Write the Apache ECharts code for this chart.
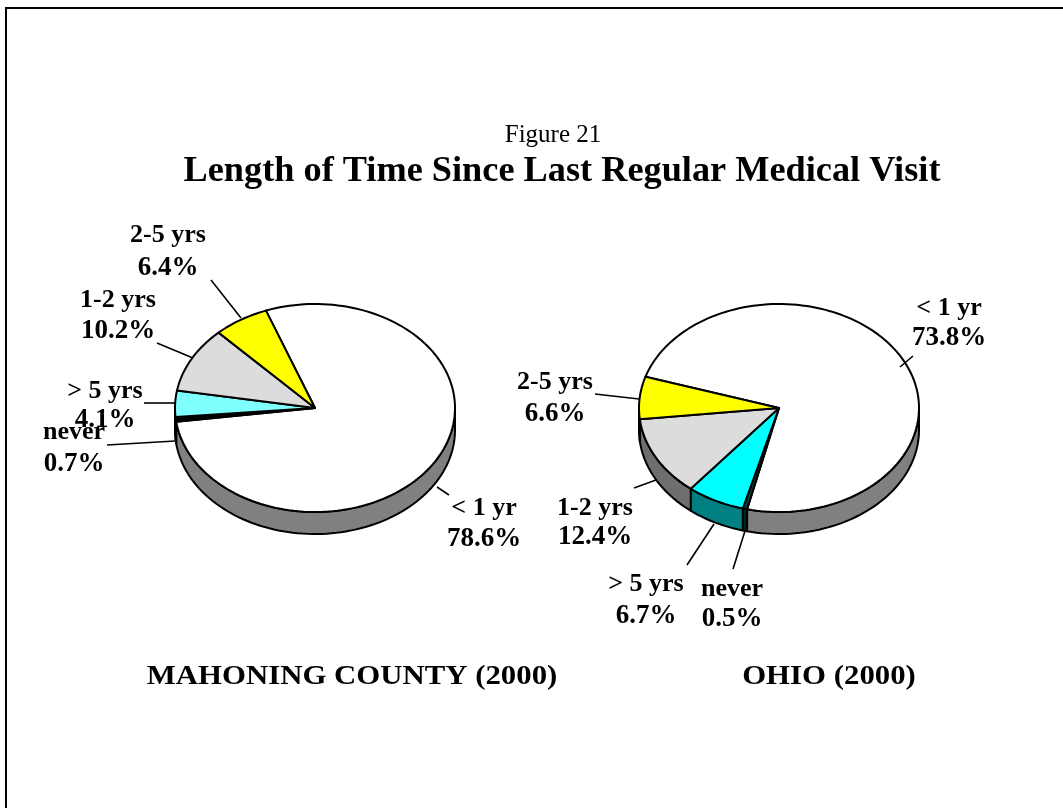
<!DOCTYPE html>
<html><head><meta charset="utf-8">
<style>html,body{margin:0;padding:0;background:#fff}#c{width:1063px;height:808px}</style>
<script src="https://cdn.jsdelivr.net/npm/echarts@6/dist/echarts.min.js"></script></head>
<body><div id="c"></div>
<script>
const categories = ['< 1 yr', 'never', '> 5 yrs', '1-2 yrs', '2-5 yrs'];
const mahoningValues = [78.6, 0.7, 4.1, 10.2, 6.4];
const ohioValues = [73.8, 0.5, 6.7, 12.4, 6.6];
const mahoningTop = ['#ffffff', '#000000', '#80ffff', '#dcdcdc', '#ffff00'];
const ohioTop = ['#ffffff', '#004040', '#00ffff', '#dcdcdc', '#ffff00'];
const mahoningSide = ['#808080', '#000000', '#408080', '#6e6e6e', '#808000'];
const ohioSide = ['#808080', '#002020', '#008080', '#6e6e6e', '#808000'];
const FONT = '"Liberation Serif","Times New Roman",serif';
const RX = 140, RY = 104, DEPTH = 22, CY = 408;

// label layout: [x, y of name, y of value, leader from x,y, leader to x,y], by category
const mahoningLabels = [
  [484, 508, 539, 449, 495, 437, 487],
  [74, 432, 464, 107, 445, 175, 441],
  [105, 391, 420, 144, 403, 175, 403],
  [118, 300, 331, 157, 343, 193, 358],
  [168, 235, 268, 211, 280, 241, 318]
];
const ohioLabels = [
  [949, 308, 338, 900, 367, 913, 356],
  [732, 589, 619, 733, 569, 745, 531],
  [646, 584, 616, 687, 565, 714, 524],
  [595, 508, 537, 634, 488, 656, 480],
  [555, 382, 414, 595, 394, 639, 399]
];

function pt(cx, deg, dy) {
  const a = deg * Math.PI / 180;
  return [cx + RX * Math.sin(a), CY - RY * Math.cos(a) + (dy || 0)];
}
function arc(cx, a0, a1, dy) {
  const n = Math.max(2, Math.ceil(Math.abs(a1 - a0) / 2)), out = [];
  for (let i = 0; i <= n; i++) out.push(pt(cx, a0 + (a1 - a0) * i / n, dy));
  return out;
}
function angles(values, start, i) {
  const total = values.reduce((s, v) => s + v, 0);
  let acc = 0;
  for (let k = 0; k < i; k++) acc += values[k];
  return [start + acc / total * 360, start + (acc + values[i]) / total * 360];
}
const line = { stroke: '#000', lineWidth: 2, lineJoin: 'round' };

function pieSeries(values, tops, sides, labels, cx, start) {
  const data = values.map((v, i) => [i, v]);
  return [
    { type: 'custom', coordinateSystem: 'none', z: 1, data, silent: true, animation: false,
      renderItem(p, api) {
        const i = api.value(0);
        const [a0, a1] = angles(values, start, i);
        const f0 = Math.max(a0, 90), f1 = Math.min(a1, 270);
        if (f1 <= f0) return { type: 'group', children: [] };
        const pts = arc(cx, f0, f1, 0).concat(arc(cx, f1, f0, DEPTH));
        return { type: 'polygon', shape: { points: pts }, style: Object.assign({ fill: sides[i] }, line) };
      } },
    { type: 'custom', coordinateSystem: 'none', z: 2, data, silent: true, animation: false,
      renderItem(p, api) {
        const i = api.value(0);
        const [a0, a1] = angles(values, start, i);
        const pts = [[cx, CY]].concat(arc(cx, a0, a1, 0));
        return { type: 'polygon', shape: { points: pts }, style: Object.assign({ fill: tops[i] }, line) };
      } },
    { type: 'custom', coordinateSystem: 'none', z: 3, data, silent: true, animation: false,
      renderItem(p, api) {
        const i = api.value(0);
        const l = labels[i];
        const text = (t, x, y, size) => ({ type: 'text', style: { text: t, x, y, align: 'center', verticalAlign: 'middle',
          font: 'bold ' + size + 'px ' + FONT, fill: '#000' } });
        return { type: 'group', children: [
          { type: 'line', shape: { x1: l[3], y1: l[4], x2: l[5], y2: l[6] }, style: { stroke: '#000', lineWidth: 1.6 } },
          text(categories[i], l[0], l[1], 26),
          text(api.value(1).toFixed(1) + '%', l[0], l[2], 27)
        ] };
      } }
  ];
}

const chart = echarts.init(document.getElementById('c'), null, { renderer: 'canvas' });
const ttl = (text, x, y, size, weight, sx) => ({ type: 'text', x, y, scaleX: sx || 1, z: 10,
  style: { text, x: 0, y: 0, align: 'center', verticalAlign: 'middle',
    font: weight + ' ' + size + 'px ' + FONT, fill: '#000' } });
chart.setOption({
  animation: false,
  backgroundColor: '#fff',
  graphic: [
    { type: 'line', shape: { x1: 6, y1: 808, x2: 6, y2: 8 }, style: { stroke: '#000', lineWidth: 2 } },
    { type: 'line', shape: { x1: 5, y1: 8, x2: 1063, y2: 8 }, style: { stroke: '#000', lineWidth: 2 } },
    ttl('Figure 21', 553, 135, 25, 'normal'),
    ttl('Length of Time Since Last Regular Medical Visit', 562, 172, 36, 'bold', 1.008),
    ttl('MAHONING COUNTY (2000)', 352, 677, 28, 'bold', 1.1),
    ttl('OHIO (2000)', 829, 677, 28, 'bold', 1.1)
  ],
  series: pieSeries(mahoningValues, mahoningTop, mahoningSide, mahoningLabels, 315, -20.5)
    .concat(pieSeries(ohioValues, ohioTop, ohioSide, ohioLabels, 779, -72.5))
});
</script></body></html>
